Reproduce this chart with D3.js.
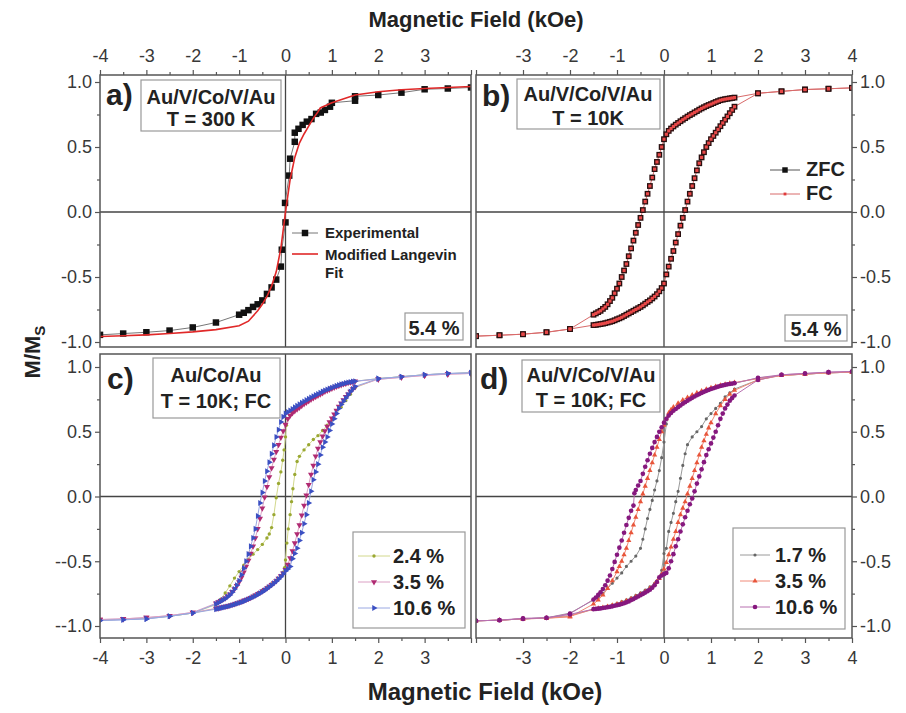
<!DOCTYPE html>
<html><head><meta charset="utf-8">
<script src="https://cdn.jsdelivr.net/npm/d3@7"></script>
<style>
body{margin:0;background:#fff}
svg{display:block;font-family:"Liberation Sans",Arial,sans-serif}
</style>
</head><body>
<svg id="chart" width="906" height="713"></svg>
<script>
// ---------- tick values / labels ----------
const fieldMajor = [-4,-3,-2,-1,0,1,2,3,4];
const fieldMinor = [-3.5,-2.5,-1.5,-0.5,0.5,1.5,2.5,3.5];
const fieldLabelsLeft  = ["-4","-3","-2","-1","0","1","2","3",""];
const fieldLabelsRight = ["","-3","-2","-1","0","1","2","3","4"];
const magMajor = [-1,-0.5,0,0.5,1];
const magMinor = [-0.75,-0.25,0.25,0.75];
const magLabelsA = ["-1.0","-0.5","0.0","0.5","1.0"];
const magLabelsC = ["--1.0","--0.5","0.0","0.5","1.0"];
const magLabelsRight = ["-1.0","-0.5","0.0","0.5","1.0"];

// ---------- panel a: Au/V/Co/V/Au, 300 K ----------
const aExperimental = [[-4,-0.945],[-3.5,-0.935],[-3,-0.925],[-2.5,-0.912],[-2,-0.888],[-1.5,-0.85],[-1,-0.79],[-0.9,-0.775],[-0.8,-0.755],[-0.7,-0.73],[-0.6,-0.71],[-0.5,-0.68],[-0.4,-0.63],[-0.3,-0.58],[-0.2,-0.52],[-0.1,-0.42],[-0.08,-0.29],[0,-0.08],[-0.01,0.07],[0.08,0.28],[0.1,0.41],[0.2,0.54],[0.2,0.61],[0.28,0.64],[0.37,0.67],[0.46,0.695],[0.56,0.715],[0.66,0.755],[0.76,0.765],[0.85,0.785],[0.96,0.81],[1,0.84],[1.5,0.856],[1.5,0.89],[2,0.9],[2.5,0.918],[3,0.944],[3.5,0.95],[4,0.958]];
const aFit = [[-4,-0.958],[-3.5,-0.952],[-3,-0.945],[-2.5,-0.935],[-2,-0.922],[-1.5,-0.905],[-1,-0.875],[-0.8,-0.84],[-0.6,-0.76],[-0.5,-0.71],[-0.4,-0.65],[-0.3,-0.57],[-0.2,-0.46],[-0.1,-0.28],[0,0],[0.1,0.25],[0.2,0.42],[0.3,0.53],[0.4,0.6],[0.5,0.66],[0.6,0.72],[0.7,0.77],[0.75,0.8],[1,0.84],[1.5,0.9],[2,0.925],[2.5,0.94],[3,0.95],[3.5,0.958],[4,0.965]];

// ---------- panel b: Au/V/Co/V/Au, 10 K, ZFC and FC (curves coincide) ----------
const bZfcDesc = [[4,0.955],[3.5,0.948],[3,0.942],[2.5,0.928],[2,0.913],[1.5,0.88],[1.45,0.877],[1.4,0.874],[1.35,0.871],[1.3,0.868],[1.25,0.864],[1.2,0.86],[1.15,0.853],[1.1,0.846],[1.05,0.838],[1,0.83],[0.95,0.823],[0.9,0.815],[0.85,0.806],[0.8,0.797],[0.75,0.787],[0.7,0.776],[0.65,0.766],[0.6,0.755],[0.55,0.745],[0.5,0.734],[0.45,0.722],[0.4,0.71],[0.35,0.698],[0.3,0.685],[0.25,0.672],[0.2,0.658],[0.15,0.642],[0.1,0.624],[0.05,0.598],[0,0.56],[-0.05,0.5],[-0.1,0.44],[-0.15,0.385],[-0.2,0.33],[-0.25,0.265],[-0.3,0.2],[-0.35,0.14],[-0.4,0.08],[-0.45,0.015],[-0.5,-0.045],[-0.55,-0.1],[-0.6,-0.16],[-0.65,-0.22],[-0.7,-0.28],[-0.75,-0.34],[-0.8,-0.4],[-0.85,-0.45],[-0.9,-0.5],[-0.95,-0.55],[-1,-0.59],[-1.05,-0.625],[-1.1,-0.66],[-1.15,-0.685],[-1.2,-0.71],[-1.25,-0.73],[-1.3,-0.745],[-1.35,-0.76],[-1.4,-0.77],[-1.45,-0.78],[-1.5,-0.79],[-2,-0.9],[-2.5,-0.925],[-3,-0.94],[-3.5,-0.948],[-4,-0.955]];
const bZfcAsc = [[-4,-0.955],[-3.5,-0.948],[-3,-0.94],[-2.5,-0.925],[-2,-0.9],[-1.5,-0.87],[-1.45,-0.868],[-1.4,-0.865],[-1.35,-0.862],[-1.3,-0.859],[-1.25,-0.855],[-1.2,-0.85],[-1.15,-0.845],[-1.1,-0.84],[-1.05,-0.833],[-1,-0.825],[-0.95,-0.818],[-0.9,-0.81],[-0.85,-0.8],[-0.8,-0.79],[-0.75,-0.78],[-0.7,-0.77],[-0.65,-0.76],[-0.6,-0.75],[-0.55,-0.74],[-0.5,-0.73],[-0.45,-0.718],[-0.4,-0.705],[-0.35,-0.692],[-0.3,-0.68],[-0.25,-0.665],[-0.2,-0.65],[-0.15,-0.632],[-0.1,-0.61],[-0.05,-0.585],[0,-0.55],[0.05,-0.48],[0.1,-0.42],[0.15,-0.36],[0.2,-0.3],[0.25,-0.235],[0.3,-0.17],[0.35,-0.105],[0.4,-0.045],[0.45,0.015],[0.5,0.08],[0.55,0.14],[0.6,0.2],[0.65,0.26],[0.7,0.32],[0.75,0.375],[0.8,0.42],[0.85,0.46],[0.9,0.5],[0.95,0.53],[1,0.56],[1.05,0.585],[1.1,0.61],[1.15,0.635],[1.2,0.66],[1.25,0.685],[1.3,0.71],[1.35,0.735],[1.4,0.76],[1.45,0.785],[1.5,0.81],[2,0.913],[2.5,0.928],[3,0.942],[3.5,0.948],[4,0.955]];
const bFcDesc = bZfcDesc;
const bFcAsc = bZfcAsc;

// ---------- panel c: Au/Co/Au, 10 K FC ----------
const c24Desc = [[4,0.955],[3.5,0.948],[3,0.94],[2.5,0.925],[2,0.91],[1.5,0.89],[1.4,0.882],[1.3,0.874],[1.2,0.864],[1.1,0.852],[1,0.838],[0.9,0.822],[0.8,0.805],[0.7,0.786],[0.6,0.766],[0.5,0.744],[0.4,0.72],[0.3,0.694],[0.2,0.665],[0.15,0.648],[0.1,0.628],[0.05,0.6],[0.02,0.55],[0,0.46],[-0.03,0.36],[-0.06,0.28],[-0.1,0.19],[-0.15,0.1],[-0.2,-0.01],[-0.25,-0.14],[-0.3,-0.24],[-0.35,-0.29],[-0.4,-0.32],[-0.5,-0.37],[-0.6,-0.41],[-0.7,-0.445],[-0.8,-0.485],[-0.9,-0.53],[-1,-0.58],[-1.1,-0.63],[-1.2,-0.69],[-1.3,-0.745],[-1.4,-0.795],[-1.5,-0.835],[-2,-0.9],[-2.5,-0.925],[-3,-0.94],[-3.5,-0.948],[-4,-0.955]];
const c24Asc = [[-4,-0.955],[-3.5,-0.948],[-3,-0.94],[-2.5,-0.925],[-2,-0.9],[-1.5,-0.865],[-1.4,-0.858],[-1.3,-0.85],[-1.2,-0.84],[-1.1,-0.829],[-1,-0.816],[-0.9,-0.802],[-0.8,-0.786],[-0.7,-0.768],[-0.6,-0.748],[-0.5,-0.726],[-0.4,-0.702],[-0.3,-0.676],[-0.2,-0.648],[-0.15,-0.632],[-0.1,-0.612],[-0.05,-0.585],[-0.02,-0.55],[0,-0.49],[0.03,-0.36],[0.06,-0.25],[0.1,-0.14],[0.13,-0.04],[0.16,0.06],[0.2,0.17],[0.25,0.27],[0.3,0.31],[0.4,0.36],[0.5,0.4],[0.6,0.44],[0.7,0.47],[0.8,0.51],[0.9,0.55],[1,0.59],[1.1,0.64],[1.2,0.69],[1.3,0.74],[1.4,0.79],[1.5,0.84],[2,0.91],[2.5,0.925],[3,0.94],[3.5,0.948],[4,0.955]];
const c35Desc = [[4,0.95],[3.5,0.945],[3,0.935],[2.5,0.92],[2,0.905],[1.5,0.89],[1.45,0.886],[1.4,0.882],[1.35,0.878],[1.3,0.873],[1.25,0.868],[1.2,0.862],[1.15,0.856],[1.1,0.849],[1.05,0.842],[1,0.835],[0.95,0.827],[0.9,0.819],[0.85,0.81],[0.8,0.8],[0.75,0.79],[0.7,0.78],[0.65,0.77],[0.6,0.76],[0.55,0.749],[0.5,0.738],[0.45,0.726],[0.4,0.714],[0.35,0.701],[0.3,0.688],[0.25,0.674],[0.2,0.66],[0.15,0.644],[0.1,0.626],[0.05,0.6],[0,0.555],[-0.05,0.505],[-0.1,0.455],[-0.15,0.4],[-0.2,0.345],[-0.25,0.285],[-0.3,0.22],[-0.35,0.15],[-0.4,0.075],[-0.45,-0.005],[-0.5,-0.09],[-0.55,-0.17],[-0.6,-0.25],[-0.65,-0.32],[-0.7,-0.385],[-0.75,-0.44],[-0.8,-0.495],[-0.85,-0.54],[-0.9,-0.585],[-0.95,-0.625],[-1,-0.66],[-1.05,-0.69],[-1.1,-0.715],[-1.15,-0.735],[-1.2,-0.755],[-1.25,-0.77],[-1.3,-0.785],[-1.35,-0.795],[-1.4,-0.805],[-1.45,-0.815],[-1.5,-0.825],[-2,-0.895],[-2.5,-0.92],[-3,-0.935],[-3.5,-0.945],[-4,-0.95]];
const c35Asc = [[-4,-0.95],[-3.5,-0.945],[-3,-0.935],[-2.5,-0.92],[-2,-0.895],[-1.5,-0.865],[-1.45,-0.862],[-1.4,-0.858],[-1.35,-0.854],[-1.3,-0.85],[-1.25,-0.846],[-1.2,-0.841],[-1.15,-0.836],[-1.1,-0.83],[-1.05,-0.824],[-1,-0.818],[-0.95,-0.811],[-0.9,-0.804],[-0.85,-0.797],[-0.8,-0.789],[-0.75,-0.781],[-0.7,-0.772],[-0.65,-0.763],[-0.6,-0.753],[-0.55,-0.743],[-0.5,-0.732],[-0.45,-0.72],[-0.4,-0.708],[-0.35,-0.695],[-0.3,-0.682],[-0.25,-0.668],[-0.2,-0.652],[-0.15,-0.634],[-0.1,-0.614],[-0.05,-0.592],[0,-0.565],[0.05,-0.525],[0.1,-0.475],[0.15,-0.42],[0.2,-0.36],[0.25,-0.29],[0.3,-0.22],[0.35,-0.145],[0.4,-0.07],[0.45,0.01],[0.5,0.09],[0.55,0.17],[0.6,0.24],[0.65,0.31],[0.7,0.37],[0.75,0.42],[0.8,0.465],[0.85,0.505],[0.9,0.54],[0.95,0.575],[1,0.605],[1.05,0.635],[1.1,0.665],[1.15,0.695],[1.2,0.72],[1.25,0.745],[1.3,0.77],[1.35,0.79],[1.4,0.81],[1.45,0.83],[1.5,0.845],[2,0.905],[2.5,0.92],[3,0.935],[3.5,0.945],[4,0.95]];
const c106Desc = [[4,0.955],[3.5,0.95],[3,0.94],[2.5,0.925],[2,0.91],[1.5,0.89],[1.45,0.887],[1.4,0.884],[1.35,0.88],[1.3,0.876],[1.25,0.871],[1.2,0.866],[1.15,0.86],[1.1,0.854],[1.05,0.847],[1,0.84],[0.95,0.833],[0.9,0.826],[0.85,0.818],[0.8,0.81],[0.75,0.801],[0.7,0.792],[0.65,0.783],[0.6,0.774],[0.55,0.764],[0.5,0.754],[0.45,0.744],[0.4,0.734],[0.35,0.723],[0.3,0.712],[0.25,0.7],[0.2,0.688],[0.15,0.676],[0.1,0.664],[0.05,0.652],[0,0.64],[-0.05,0.615],[-0.1,0.575],[-0.15,0.515],[-0.2,0.46],[-0.25,0.395],[-0.3,0.33],[-0.35,0.265],[-0.4,0.195],[-0.45,0.12],[-0.5,0.03],[-0.55,-0.05],[-0.6,-0.15],[-0.65,-0.25],[-0.7,-0.32],[-0.75,-0.385],[-0.8,-0.445],[-0.85,-0.5],[-0.9,-0.555],[-0.95,-0.605],[-1,-0.65],[-1.05,-0.685],[-1.1,-0.715],[-1.15,-0.74],[-1.2,-0.76],[-1.25,-0.775],[-1.3,-0.79],[-1.35,-0.8],[-1.4,-0.81],[-1.45,-0.82],[-1.5,-0.83],[-2,-0.9],[-2.5,-0.925],[-3,-0.945],[-3.5,-0.952],[-4,-0.958]];
const c106Asc = [[-4,-0.958],[-3.5,-0.952],[-3,-0.945],[-2.5,-0.925],[-2,-0.9],[-1.5,-0.87],[-1.45,-0.866],[-1.4,-0.862],[-1.35,-0.858],[-1.3,-0.854],[-1.25,-0.85],[-1.2,-0.845],[-1.15,-0.84],[-1.1,-0.834],[-1.05,-0.828],[-1,-0.822],[-0.95,-0.816],[-0.9,-0.81],[-0.85,-0.802],[-0.8,-0.794],[-0.75,-0.786],[-0.7,-0.778],[-0.65,-0.768],[-0.6,-0.758],[-0.55,-0.748],[-0.5,-0.737],[-0.45,-0.725],[-0.4,-0.712],[-0.35,-0.699],[-0.3,-0.685],[-0.25,-0.67],[-0.2,-0.655],[-0.15,-0.638],[-0.1,-0.62],[-0.05,-0.598],[0,-0.575],[0.05,-0.56],[0.1,-0.54],[0.15,-0.48],[0.2,-0.44],[0.25,-0.4],[0.3,-0.34],[0.35,-0.28],[0.4,-0.21],[0.45,-0.14],[0.5,-0.05],[0.55,0.04],[0.6,0.13],[0.65,0.19],[0.7,0.25],[0.75,0.32],[0.8,0.38],[0.85,0.42],[0.9,0.46],[0.95,0.51],[1,0.56],[1.05,0.6],[1.1,0.64],[1.15,0.68],[1.2,0.71],[1.25,0.735],[1.3,0.76],[1.35,0.785],[1.4,0.81],[1.45,0.83],[1.5,0.85],[2,0.91],[2.5,0.925],[3,0.94],[3.5,0.95],[4,0.955]];

// ---------- panel d: Au/V/Co/V/Au, 10 K FC ----------
const d17Desc = [[4,0.96],[3.5,0.955],[3,0.945],[2.5,0.935],[2,0.915],[1.5,0.875],[1.4,0.868],[1.3,0.86],[1.2,0.851],[1.1,0.841],[1,0.83],[0.9,0.817],[0.8,0.803],[0.7,0.787],[0.6,0.77],[0.5,0.75],[0.4,0.728],[0.3,0.703],[0.2,0.675],[0.15,0.655],[0.1,0.63],[0.05,0.56],[0,0.42],[-0.05,0.3],[-0.1,0.2],[-0.15,0.12],[-0.2,0.05],[-0.25,-0.03],[-0.3,-0.1],[-0.35,-0.17],[-0.4,-0.25],[-0.45,-0.33],[-0.5,-0.4],[-0.6,-0.46],[-0.7,-0.5],[-0.8,-0.54],[-0.9,-0.59],[-1,-0.63],[-1.1,-0.67],[-1.2,-0.71],[-1.3,-0.75],[-1.4,-0.78],[-1.5,-0.8],[-2,-0.9],[-2.5,-0.937],[-3,-0.945],[-3.5,-0.955],[-4,-0.96]];
const d17Asc = [[-4,-0.96],[-3.5,-0.955],[-3,-0.945],[-2.5,-0.937],[-2,-0.92],[-1.5,-0.87],[-1.4,-0.863],[-1.3,-0.855],[-1.2,-0.846],[-1.1,-0.836],[-1,-0.825],[-0.9,-0.812],[-0.8,-0.798],[-0.7,-0.782],[-0.6,-0.764],[-0.5,-0.744],[-0.4,-0.722],[-0.3,-0.698],[-0.2,-0.67],[-0.15,-0.652],[-0.1,-0.63],[-0.05,-0.57],[0,-0.44],[0.05,-0.4],[0.1,-0.27],[0.15,-0.2],[0.2,-0.13],[0.25,-0.04],[0.3,0.04],[0.35,0.14],[0.4,0.24],[0.45,0.33],[0.5,0.4],[0.6,0.46],[0.7,0.5],[0.8,0.54],[0.9,0.6],[1,0.64],[1.1,0.68],[1.2,0.72],[1.3,0.77],[1.4,0.8],[1.5,0.83],[2,0.9],[2.5,0.937],[3,0.945],[3.5,0.955],[4,0.96]];
const d35Desc = [[4,0.96],[3.5,0.955],[3,0.945],[2.5,0.935],[2,0.91],[1.5,0.88],[1.4,0.874],[1.3,0.867],[1.2,0.859],[1.1,0.85],[1,0.84],[0.9,0.828],[0.8,0.815],[0.7,0.8],[0.6,0.783],[0.5,0.765],[0.4,0.745],[0.3,0.72],[0.2,0.69],[0.15,0.67],[0.1,0.645],[0.05,0.6],[0,0.55],[-0.05,0.5],[-0.1,0.44],[-0.15,0.38],[-0.2,0.32],[-0.25,0.26],[-0.3,0.2],[-0.35,0.14],[-0.4,0.08],[-0.45,0.02],[-0.5,-0.04],[-0.55,-0.1],[-0.6,-0.16],[-0.65,-0.22],[-0.7,-0.28],[-0.75,-0.34],[-0.8,-0.4],[-0.85,-0.45],[-0.9,-0.5],[-0.95,-0.54],[-1,-0.58],[-1.1,-0.65],[-1.2,-0.71],[-1.3,-0.76],[-1.4,-0.8],[-1.5,-0.83],[-2,-0.93],[-2.5,-0.94],[-3,-0.945],[-3.5,-0.955],[-4,-0.96]];
const d35Asc = [[-4,-0.96],[-3.5,-0.955],[-3,-0.945],[-2.5,-0.94],[-2,-0.925],[-1.5,-0.87],[-1.4,-0.864],[-1.3,-0.857],[-1.2,-0.849],[-1.1,-0.84],[-1,-0.83],[-0.9,-0.818],[-0.8,-0.805],[-0.7,-0.79],[-0.6,-0.773],[-0.5,-0.755],[-0.4,-0.733],[-0.3,-0.708],[-0.2,-0.678],[-0.15,-0.658],[-0.1,-0.634],[-0.05,-0.6],[0,-0.56],[0.05,-0.51],[0.1,-0.45],[0.15,-0.39],[0.2,-0.33],[0.25,-0.27],[0.3,-0.2],[0.35,-0.14],[0.4,-0.09],[0.45,-0.04],[0.5,0.02],[0.55,0.08],[0.6,0.14],[0.65,0.2],[0.7,0.26],[0.75,0.32],[0.8,0.38],[0.85,0.43],[0.9,0.48],[0.95,0.53],[1,0.57],[1.1,0.64],[1.2,0.7],[1.3,0.75],[1.4,0.79],[1.5,0.82],[2,0.9],[2.5,0.935],[3,0.945],[3.5,0.955],[4,0.96]];
const d106Desc = [[4,0.965],[3.5,0.96],[3,0.95],[2.5,0.94],[2,0.917],[1.5,0.875],[1.45,0.872],[1.4,0.869],[1.35,0.866],[1.3,0.862],[1.25,0.858],[1.2,0.853],[1.15,0.848],[1.1,0.842],[1.05,0.836],[1,0.83],[0.95,0.823],[0.9,0.816],[0.85,0.808],[0.8,0.8],[0.75,0.791],[0.7,0.782],[0.65,0.772],[0.6,0.762],[0.55,0.751],[0.5,0.74],[0.45,0.728],[0.4,0.716],[0.35,0.703],[0.3,0.69],[0.25,0.676],[0.2,0.662],[0.15,0.645],[0.1,0.625],[0.05,0.6],[0,0.57],[-0.05,0.535],[-0.1,0.5],[-0.15,0.46],[-0.2,0.42],[-0.25,0.375],[-0.3,0.33],[-0.35,0.28],[-0.4,0.23],[-0.45,0.175],[-0.5,0.12],[-0.55,0.085],[-0.6,0.05],[-0.63,0.025],[-0.65,-0.07],[-0.7,-0.11],[-0.75,-0.165],[-0.8,-0.22],[-0.85,-0.28],[-0.9,-0.34],[-0.95,-0.395],[-1,-0.45],[-1.05,-0.505],[-1.1,-0.56],[-1.15,-0.61],[-1.2,-0.65],[-1.25,-0.685],[-1.3,-0.715],[-1.35,-0.74],[-1.4,-0.76],[-1.45,-0.78],[-1.5,-0.795],[-2,-0.905],[-2.5,-0.937],[-3,-0.945],[-3.5,-0.955],[-4,-0.96]];
const d106Asc = [[-4,-0.96],[-3.5,-0.955],[-3,-0.94],[-2.5,-0.937],[-2,-0.91],[-1.5,-0.87],[-1.45,-0.868],[-1.4,-0.866],[-1.35,-0.864],[-1.3,-0.861],[-1.25,-0.858],[-1.2,-0.855],[-1.15,-0.852],[-1.1,-0.848],[-1.05,-0.844],[-1,-0.84],[-0.95,-0.835],[-0.9,-0.83],[-0.85,-0.824],[-0.8,-0.817],[-0.75,-0.81],[-0.7,-0.8],[-0.65,-0.792],[-0.6,-0.782],[-0.55,-0.772],[-0.5,-0.762],[-0.45,-0.752],[-0.4,-0.742],[-0.35,-0.731],[-0.3,-0.72],[-0.25,-0.705],[-0.2,-0.685],[-0.15,-0.66],[-0.1,-0.625],[-0.05,-0.61],[0,-0.6],[0.05,-0.59],[0.1,-0.555],[0.15,-0.5],[0.2,-0.445],[0.25,-0.385],[0.3,-0.33],[0.35,-0.27],[0.4,-0.215],[0.45,-0.16],[0.5,-0.11],[0.55,-0.06],[0.6,-0.015],[0.65,0.04],[0.7,0.1],[0.75,0.155],[0.8,0.21],[0.85,0.265],[0.9,0.32],[0.95,0.365],[1,0.41],[1.05,0.455],[1.1,0.5],[1.15,0.55],[1.2,0.6],[1.25,0.64],[1.3,0.68],[1.35,0.71],[1.4,0.74],[1.45,0.76],[1.5,0.78],[2,0.9],[2.5,0.94],[3,0.95],[3.5,0.96],[4,0.965]];

// ---------- layout ----------
const svg = d3.select("#chart");
const FONT = '"Liberation Sans",Arial,sans-serif';
const panelBoxes = {
  a:{x0:100,x1:471,y0:75,y1:347,yTop:82,yBot:342},
  b:{x0:476,x1:852,y0:75,y1:347,yTop:82,yBot:342},
  c:{x0:100,x1:471,y0:354,y1:638,yTop:367,yBot:626},
  d:{x0:476,x1:852,y0:354,y1:638,yTop:367,yBot:626}
};
const P = {};
Object.entries(panelBoxes).forEach(([k,b])=>{
  const x = d3.scaleLinear().domain([-4,4]).range([b.x0,b.x1]);
  const y = d3.scaleLinear().domain([-1,1]).range([b.yBot,b.yTop]);
  const clipId = "clip-"+k;
  svg.append("clipPath").attr("id",clipId).append("rect")
    .attr("x",b.x0).attr("y",b.y0).attr("width",b.x1-b.x0).attr("height",b.y1-b.y0);
  svg.append("line").attr("x1",b.x0).attr("x2",b.x1).attr("y1",y(0)).attr("y2",y(0))
    .attr("stroke","#444").attr("stroke-width",1.3);
  svg.append("line").attr("x1",x(0)).attr("x2",x(0)).attr("y1",b.y0).attr("y2",b.y1)
    .attr("stroke","#444").attr("stroke-width",1.3);
  const g = svg.append("g").attr("clip-path",`url(#${clipId})`);
  P[k] = {x,y,g,b};
});

// ---------- axes ----------
function styleAxis(sel){
  sel.select(".domain").remove();
  sel.selectAll("line").attr("stroke","#555").attr("stroke-width",1.2);
  sel.selectAll("text").attr("font-family",FONT).attr("font-size",18).attr("fill","#383838");
}
function addAxis(gen, scale, tx, ty, majors, labels, minors, pad){
  svg.append("g").attr("transform",`translate(${tx},${ty})`)
    .call(gen(scale).tickValues(majors).tickSize(5).tickPadding(pad)
      .tickFormat(d=>labels[majors.indexOf(d)]))
    .call(styleAxis);
  svg.append("g").attr("transform",`translate(${tx},${ty})`)
    .call(gen(scale).tickValues(minors).tickSize(3).tickFormat(""))
    .call(styleAxis);
}
addAxis(d3.axisTop, P.a.x, 0, P.a.b.y0, fieldMajor, fieldLabelsLeft, fieldMinor, 8);
addAxis(d3.axisTop, P.b.x, 0, P.b.b.y0, fieldMajor, fieldLabelsRight, fieldMinor, 8);
addAxis(d3.axisBottom, P.c.x, 0, P.c.b.y1, fieldMajor, fieldLabelsLeft, fieldMinor, 8);
addAxis(d3.axisBottom, P.d.x, 0, P.d.b.y1, fieldMajor, fieldLabelsRight, fieldMinor, 8);
addAxis(d3.axisLeft, P.a.y, P.a.b.x0, 0, magMajor, magLabelsA, magMinor, 3);
addAxis(d3.axisLeft, P.c.y, P.c.b.x0, 0, magMajor, magLabelsC, magMinor, 3);
addAxis(d3.axisRight, P.b.y, P.b.b.x1, 0, magMajor, magLabelsRight, magMinor, 3);
addAxis(d3.axisRight, P.d.y, P.d.b.x1, 0, magMajor, magLabelsRight, magMinor, 3);

// ---------- series ----------
function drawSeries(p, data, o){
  const line = d3.line().x(d=>p.x(d[0])).y(d=>p.y(d[1]));
  if(o.line) p.g.append("path").datum(data).attr("d",line).attr("fill","none")
    .attr("stroke",o.line).attr("stroke-width",o.lw||1);
  if(o.type) p.g.append("g").selectAll("path").data(data).join("path")
    .attr("transform",d=>`translate(${p.x(d[0])},${p.y(d[1])}) rotate(${o.rot||0})`)
    .attr("d",d3.symbol(o.type,o.size))
    .attr("fill",o.fill).attr("stroke",o.stroke||"none").attr("stroke-width",o.sw||0);
}
const S = {
  exp:{line:"#666",lw:0.9,type:d3.symbolSquare,size:42,fill:"#111"},
  fit:{line:"#e02828",lw:1.6},
  zfc:{line:"#d86a6a",lw:1,type:d3.symbolSquare,size:34,fill:"#2a1010"},
  fc:{line:null,type:d3.symbolSquare,size:10,fill:"#e84848"},
  c24:{line:"#d2d88c",lw:1,type:d3.symbolCircle,size:9,fill:"#9aa832"},
  c35:{line:"#dba0c4",lw:1,type:d3.symbolTriangle,size:16,fill:"#b02a72",rot:180},
  c106:{line:"#9aa8e2",lw:1,type:d3.symbolTriangle,size:16,fill:"#3b4fc2",rot:90},
  d17:{line:"#9a9a9a",lw:1,type:d3.symbolCircle,size:8,fill:"#666"},
  d35:{line:"#f08a78",lw:1,type:d3.symbolTriangle,size:12,fill:"#e8553a"},
  d106:{line:"#b870b0",lw:1,type:d3.symbolCircle,size:17,fill:"#86187e"}
};
drawSeries(P.a, aExperimental, S.exp);
drawSeries(P.a, aFit, S.fit);
drawSeries(P.b, bZfcDesc, S.zfc); drawSeries(P.b, bZfcAsc, S.zfc);
drawSeries(P.b, bFcDesc, S.fc); drawSeries(P.b, bFcAsc, S.fc);
drawSeries(P.c, c24Desc, S.c24); drawSeries(P.c, c24Asc, S.c24);
drawSeries(P.c, c35Desc, S.c35); drawSeries(P.c, c35Asc, S.c35);
drawSeries(P.c, c106Desc, S.c106); drawSeries(P.c, c106Asc, S.c106);
drawSeries(P.d, d17Desc, S.d17); drawSeries(P.d, d17Asc, S.d17);
drawSeries(P.d, d35Desc, S.d35); drawSeries(P.d, d35Asc, S.d35);
drawSeries(P.d, d106Desc, S.d106); drawSeries(P.d, d106Asc, S.d106);

// ---------- frames ----------
Object.values(P).forEach(p=>{
  svg.append("rect").attr("x",p.b.x0).attr("y",p.b.y0).attr("width",p.b.x1-p.b.x0).attr("height",p.b.y1-p.b.y0)
    .attr("fill","none").attr("stroke","#555").attr("stroke-width",1.5);
});

// ---------- text helpers ----------
function txt(x,y,s,size,opt={}){
  return svg.append("text").attr("x",x).attr("y",y).text(s)
    .attr("font-family",FONT).attr("font-size",size).attr("font-weight",opt.w||"bold")
    .attr("fill",opt.fill||"#222").attr("text-anchor",opt.anchor||"start");
}
function box(x,y,w,h){
  svg.append("rect").attr("x",x).attr("y",y).attr("width",w).attr("height",h)
    .attr("fill","#fff").attr("stroke","#999").attr("stroke-width",1.2);
}
txt(106,105,"a)",30); txt(482,106,"b)",30); txt(107,389,"c)",30); txt(480,389,"d)",30);
box(141,80,140,51); txt(211,104,"Au/V/Co/V/Au",20,{anchor:"middle"}); txt(211,126,"T = 300 K",20,{anchor:"middle"});
box(517,79,143,50); txt(588,101,"Au/V/Co/V/Au",20,{anchor:"middle"}); txt(588,125,"T = 10K",20,{anchor:"middle"});
box(153,358,127,60); txt(216,382,"Au/Co/Au",20,{anchor:"middle"}); txt(216,408,"T = 10K; FC",20,{anchor:"middle"});
box(522,360,138,52); txt(591,382,"Au/V/Co/V/Au",20,{anchor:"middle"}); txt(591,407,"T = 10K; FC",20,{anchor:"middle"});
box(405,313,58,27); txt(434,335,"5.4 %",20,{anchor:"middle"});
box(785,315,62,26); txt(816,336,"5.4 %",20,{anchor:"middle"});

function legendItem(x1,x2,y,st){
  svg.append("line").attr("x1",x1).attr("x2",x2).attr("y1",y).attr("y2",y)
    .attr("stroke",st.line||"#e03a3a").attr("stroke-width",st.lw||1);
  if(st.type) svg.append("path").attr("transform",`translate(${(x1+x2)/2},${y}) rotate(${st.rot||0})`)
    .attr("d",d3.symbol(st.type,st.size)).attr("fill",st.fill);
}
legendItem(292,318,233,S.exp); txt(325,238,"Experimental",15);
legendItem(292,318,254,S.fit); txt(325,260,"Modified Langevin",15); txt(325,278,"Fit",15);
legendItem(770,800,170,{line:"#555",type:d3.symbolSquare,size:30,fill:"#111"}); txt(806,176,"ZFC",20);
legendItem(770,800,194,{line:"#d86a6a",type:d3.symbolSquare,size:8,fill:"#e03a3a"}); txt(806,200,"FC",20);

box(353,532,112,96);
legendItem(358,390,556,S.c24); txt(393,563,"2.4 %",20);
legendItem(358,390,582,S.c35); txt(393,589,"3.5 %",20);
legendItem(358,390,608,S.c106); txt(393,615,"10.6 %",20);

box(733,528,112,101);
legendItem(740,770,555,S.d17); txt(775,562,"1.7 %",20);
legendItem(740,770,581,S.d35); txt(775,588,"3.5 %",20);
legendItem(740,770,607,S.d106); txt(775,614,"10.6 %",20);

txt(476,27,"Magnetic Field (kOe)",22,{anchor:"middle"});
txt(485,700,"Magnetic Field (kOe)",24,{anchor:"middle"});
const yt = svg.append("text").attr("transform","translate(40,352) rotate(-90)")
  .attr("font-family",FONT).attr("font-size",22).attr("font-weight","bold").attr("fill","#222")
  .attr("text-anchor","middle");
yt.append("tspan").text("M/M");
yt.append("tspan").text("S").attr("font-size",15).attr("dy",5);
</script>
</body></html>
